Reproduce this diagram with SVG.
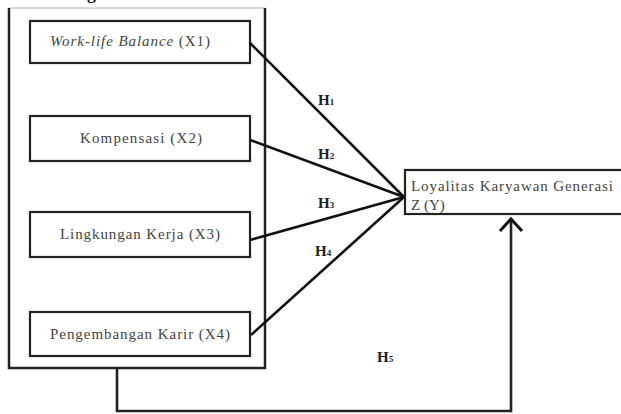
<svg xmlns="http://www.w3.org/2000/svg" width="621" height="414" viewBox="0 0 621 414">
<style>
.box{fill:#fff;stroke:#222;stroke-width:2.2}
.lbl{font-family:"Liberation Serif","Times New Roman",serif;font-size:15px;fill:#444}
.h{font-family:"Liberation Serif","Times New Roman",serif;font-size:15px;font-weight:bold;fill:#222}
.sub{font-size:9px}
.conn{stroke:#111;stroke-width:2.6;fill:none}
</style>
<rect width="621" height="414" fill="#fff"/>
<text x="87" y="-1" font-family="Liberation Serif, serif" font-size="18" font-weight="bold" fill="#111">g</text>
<g id="outer">
<line x1="9" y1="8" x2="265" y2="8" stroke="#ccc" stroke-width="1.5"/>
<path d="M9,8 V368 H265 V8" fill="none" stroke="#222" stroke-width="2.5"/>
</g>
<g id="x1">
<rect class="box" x="30" y="21" width="220" height="42"/>
<text class="lbl" x="130" y="46" text-anchor="middle" textLength="160" lengthAdjust="spacing"><tspan font-style="italic">Work-life Balance</tspan> (X1)</text>
</g>
<g id="x2">
<rect class="box" x="30" y="116" width="220" height="45"/>
<text class="lbl" x="141" y="143" text-anchor="middle" textLength="122" lengthAdjust="spacing">Kompensasi (X2)</text>
</g>
<g id="x3">
<rect class="box" x="30" y="212" width="220" height="45"/>
<text class="lbl" x="140" y="239" text-anchor="middle" textLength="160" lengthAdjust="spacing">Lingkungan Kerja (X3)</text>
</g>
<g id="x4">
<rect class="box" x="30" y="312" width="220" height="44"/>
<text class="lbl" x="140" y="339" text-anchor="middle" textLength="180" lengthAdjust="spacing">Pengembangan Karir (X4)</text>
</g>
<g id="y">
<rect class="box" x="405" y="170" width="218" height="44"/>
<text class="lbl" x="411" y="191" textLength="202" lengthAdjust="spacing">Loyalitas  Karyawan Generasi</text>
<text class="lbl" x="411" y="210">Z (Y)</text>
</g>
<g id="connectors">
<line class="conn" x1="250" y1="43" x2="404" y2="197"/>
<line class="conn" x1="250" y1="140" x2="404" y2="197"/>
<line class="conn" x1="250" y1="240" x2="404" y2="197"/>
<line class="conn" x1="251" y1="335" x2="404" y2="197"/>
<path d="M117,368 V411 H511 V219" fill="none" stroke="#222" stroke-width="2.6"/>
<path d="M500,231 L511,219 L522,231" fill="none" stroke="#111" stroke-width="3"/>
</g>
<g id="labels">
<text class="h" x="318" y="105">H<tspan class="sub">1</tspan></text>
<text class="h" x="318" y="159">H<tspan class="sub">2</tspan></text>
<text class="h" x="318" y="208">H<tspan class="sub">3</tspan></text>
<text class="h" x="315" y="256">H<tspan class="sub">4</tspan></text>
<text class="h" x="377" y="362">H<tspan class="sub">5</tspan></text>
</g>
</svg>
